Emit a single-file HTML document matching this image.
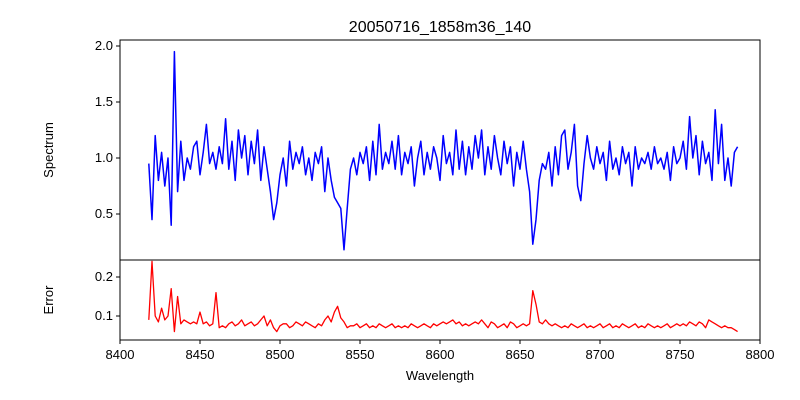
<!DOCTYPE html>
<html><head><meta charset="utf-8"><style>
body{margin:0;background:#fff}
svg{display:block;font-family:"Liberation Sans","DejaVu Sans",sans-serif}
</style></head><body>
<svg id="chart" width="800" height="400">
<rect width="800" height="400" fill="#fff"/>
<text x="440" y="32" text-anchor="middle" font-size="16">20050716_1858m36_140</text>
<g id="topPlot"></g>
<g id="botPlot"></g>
<text transform="translate(53,150) rotate(-90)" text-anchor="middle" font-size="13">Spectrum</text>
<text transform="translate(53,300) rotate(-90)" text-anchor="middle" font-size="13">Error</text>
<text x="440" y="380" text-anchor="middle" font-size="13">Wavelength</text>
</svg>
<script>
const wlStart = 8418, wlStep = 2;
const flux = [
0.95,0.45,1.2,0.8,1.05,0.75,1.0,0.4,1.95,0.7,
1.15,0.8,1.0,0.9,1.1,1.15,0.85,1.05,1.3,0.95,
1.05,0.9,1.1,0.95,1.35,0.9,1.15,0.8,1.25,1.0,
1.2,0.85,1.15,0.95,1.25,0.8,1.1,0.9,0.7,0.45,
0.6,0.85,1.0,0.75,1.15,0.9,1.05,0.95,1.1,0.85,
1.0,0.8,1.05,0.95,1.1,0.7,1.0,0.8,0.65,0.6,
0.55,0.18,0.55,0.9,1.0,0.85,1.05,0.95,1.1,0.8,
1.15,0.85,1.3,0.9,1.05,0.95,1.15,0.9,1.2,0.85,
1.05,0.95,1.1,0.75,1.0,1.15,0.85,1.05,0.9,1.1,
1.0,0.8,1.2,0.95,1.05,0.85,1.25,0.9,1.15,0.85,
1.1,0.9,1.2,1.0,1.25,0.85,1.1,0.9,1.2,1.0,
0.85,1.15,0.95,1.1,0.75,1.05,0.9,1.15,0.9,0.7,
0.23,0.45,0.8,0.95,0.9,1.05,0.75,1.1,0.85,1.2,
1.25,0.9,1.05,1.3,0.75,0.62,0.95,1.2,1.0,0.9,
1.1,0.95,1.05,0.8,1.15,0.9,1.0,0.85,1.1,0.95,
1.05,0.75,1.1,0.9,1.0,0.95,1.05,0.9,1.1,0.95,
1.0,0.9,1.05,0.8,1.1,0.95,1.0,1.15,0.9,1.37,
1.0,1.2,0.85,1.15,0.95,1.05,0.8,1.43,0.95,1.3,
0.8,1.0,0.75,1.05,1.1];
const err = [
0.09,0.24,0.1,0.085,0.12,0.09,0.1,0.17,0.06,0.15,
0.08,0.09,0.085,0.08,0.085,0.08,0.11,0.08,0.085,0.075,
0.08,0.16,0.07,0.075,0.07,0.08,0.085,0.075,0.08,0.09,
0.075,0.08,0.085,0.075,0.08,0.09,0.1,0.075,0.09,0.07,
0.06,0.075,0.08,0.08,0.07,0.075,0.085,0.08,0.075,0.085,
0.08,0.075,0.07,0.08,0.075,0.09,0.1,0.085,0.11,0.125,
0.095,0.085,0.07,0.075,0.075,0.08,0.07,0.075,0.08,0.07,
0.075,0.07,0.08,0.075,0.07,0.075,0.08,0.07,0.075,0.07,
0.075,0.07,0.08,0.075,0.07,0.075,0.08,0.075,0.07,0.08,
0.075,0.08,0.085,0.08,0.085,0.09,0.08,0.085,0.075,0.08,
0.075,0.08,0.085,0.08,0.09,0.08,0.07,0.085,0.08,0.07,
0.075,0.08,0.07,0.085,0.08,0.07,0.075,0.08,0.075,0.08,
0.165,0.13,0.085,0.08,0.09,0.08,0.075,0.08,0.075,0.07,
0.075,0.07,0.08,0.075,0.07,0.075,0.08,0.07,0.075,0.07,
0.075,0.08,0.07,0.075,0.08,0.07,0.075,0.07,0.08,0.075,
0.07,0.075,0.08,0.07,0.075,0.07,0.08,0.075,0.07,0.075,
0.07,0.075,0.08,0.07,0.075,0.08,0.075,0.08,0.075,0.085,
0.08,0.075,0.085,0.08,0.07,0.09,0.085,0.08,0.075,0.07,
0.075,0.07,0.07,0.065,0.06];
const xTicks = [8400,8450,8500,8550,8600,8650,8700,8750,8800];
const fluxTicks = [0.5,1.0,1.5,2.0];
const errTicks = [0.1,0.2];

const NS = "http://www.w3.org/2000/svg";
const L = 120, R = 760;
const xs = w => L + (w - 8400) * (R - L) / 400;
const yTop = v => 158 - (v - 1) * 112;
const yBot = v => 316 - (v - 0.1) * 390;
function mk(tag, attrs, parent){const e=document.createElementNS(NS,tag);for(const k in attrs)e.setAttribute(k,attrs[k]);parent.appendChild(e);return e;}

const topG = document.getElementById('topPlot');
const botG = document.getElementById('botPlot');

let d = flux.map((v,i)=>(i?'L':'M')+xs(wlStart+i*wlStep).toFixed(1)+','+yTop(v).toFixed(1)).join('');
const fl = mk('path',{d:d,fill:'none',stroke:'#0000ff','stroke-width':1.5,'stroke-linejoin':'round'},topG);



d = err.map((v,i)=>(i?'L':'M')+xs(wlStart+i*wlStep).toFixed(1)+','+yBot(v).toFixed(1)).join('');
const el = mk('path',{d:d,fill:'none',stroke:'#ff0000','stroke-width':1.3,'stroke-linejoin':'round'},botG);



const f1 = mk('rect',{x:L,y:40,width:R-L,height:220,fill:'none',stroke:'#000','stroke-width':1},topG);


const f2 = mk('rect',{x:L,y:260,width:R-L,height:80,fill:'none',stroke:'#000','stroke-width':1},botG);



fluxTicks.forEach(t=>{
  const y=yTop(t);
  mk('line',{x1:L-4,x2:L,y1:y,y2:y,stroke:'#000'},topG);
  const tx=mk('text',{x:L-7,y:y+4,'text-anchor':'end','font-size':13},topG);
  tx.textContent=t.toFixed(1);
  
  
});
errTicks.forEach(t=>{
  const y=yBot(t);
  mk('line',{x1:L-4,x2:L,y1:y,y2:y,stroke:'#000'},botG);
  const tx=mk('text',{x:L-7,y:y+4,'text-anchor':'end','font-size':13},botG);
  tx.textContent=t.toFixed(1);
  
  
});
xTicks.forEach(t=>{
  const x=xs(t);
  mk('line',{x1:x,x2:x,y1:340,y2:344,stroke:'#000'},botG);
  const tx=mk('text',{x:x,y:359,'text-anchor':'middle','font-size':13},botG);
  tx.textContent=t;
  
  
});
</script>
</body></html>
